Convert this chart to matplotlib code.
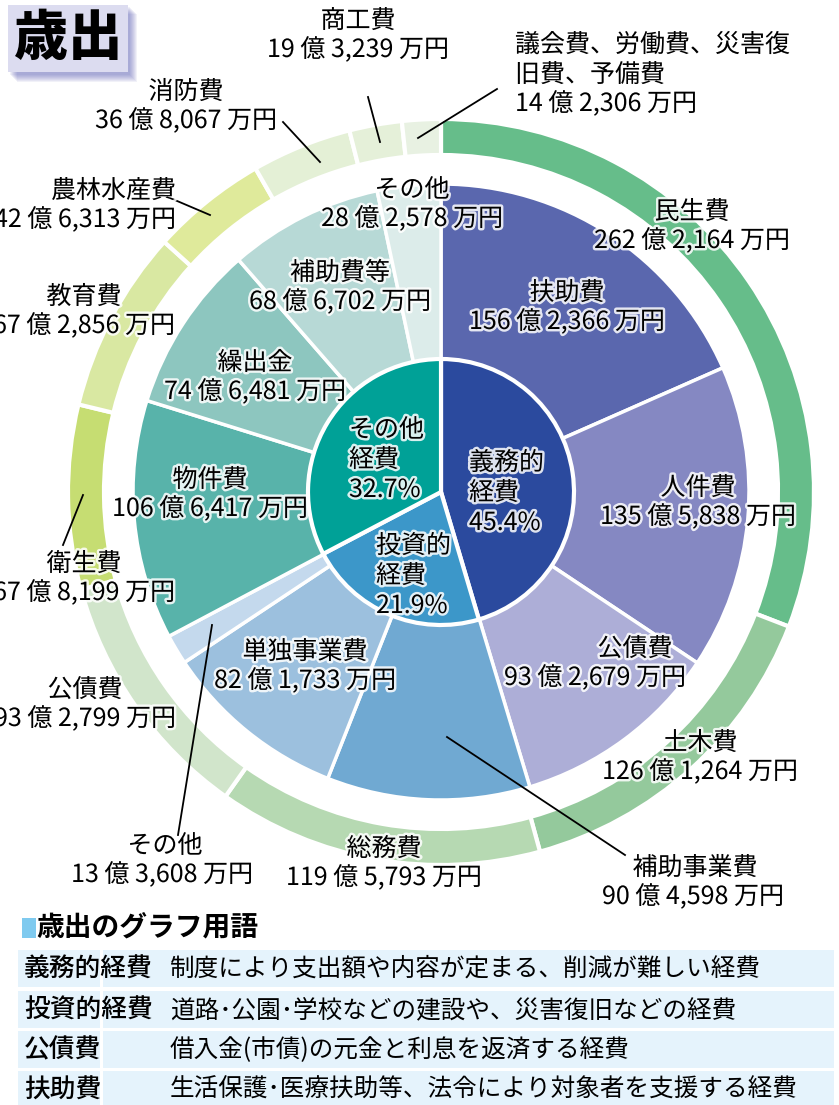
import matplotlib.pyplot as plt
import matplotlib.patheffects as pe
from matplotlib.patches import Rectangle

plt.rcParams['font.family'] = ['Noto Sans CJK JP', 'DejaVu Sans']

# 性質別 (inner ring) -- percent
inner_names = ['義務的\n経費', '投資的\n経費', 'その他\n経費']
inner_pct = [45.4, 21.9, 32.7]
inner_colors = ['#2b4a9e', '#3c97c9', '#00a197']

# middle ring, values in 万円
mid_names = ['扶助費', '人件費', '公債費', '補助事業費', '単独事業費', 'その他',
             '物件費', '繰出金', '補助費等', 'その他']
mid_vals = [1562366, 1355838, 932679, 904598, 821733, 133608,
            1066417, 746481, 686702, 282578]
mid_colors = ['#5a67ae', '#8588c2', '#adaed7', '#70a9d2', '#9cc0de', '#c4d9ed',
              '#58b3aa', '#8dc6bf', '#b7d9d6', '#dcecea']

# outer ring (目的別), values in 万円
out_names = ['民生費', '土木費', '総務費', '公債費', '衛生費', '教育費',
             '農林水産費', '消防費', '商工費', '議会費、労働費、災害復\n旧費、予備費']
out_vals = [2622164, 1261264, 1195793, 932799, 678199, 672856,
            426313, 368067, 193239, 142306]
out_colors = ['#66bd8a', '#94c99c', '#b6d9b2', '#d1e5cb', '#c6dd72', '#d9e8a2',
              '#dfea9b', '#e4f0d6', '#e5f0d9', '#e8f1e2']

terms = ['義務的経費', '投資的経費', '公債費', '扶助費']
term_desc = ['制度により支出額や内容が定まる、削減が難しい経費',
             '道路･公園･学校などの建設や、災害復旧などの経費',
             '借入金(市債)の元金と利息を返済する経費',
             '生活保護･医療扶助等、法令により対象者を支援する経費']


def yen(v):
    return f'{v // 10000} 億 {v % 10000:,} 万円'


W, H = 839, 1105
fig = plt.figure(figsize=(W / 100, H / 100), dpi=100)
ax = fig.add_axes([0, 0, 1, 1])

cx, cy = 441, 492
# y axis is flipped below, so counterclock=True draws clockwise on screen
ax.pie(out_vals, radius=373, center=(cx, cy), startangle=-90, counterclock=True,
       colors=out_colors, wedgeprops=dict(width=36, edgecolor='white', linewidth=3))
ax.pie(mid_vals, radius=308, center=(cx, cy), startangle=-90, counterclock=True,
       colors=mid_colors, wedgeprops=dict(width=176, edgecolor='white', linewidth=2.5))
ax.pie(inner_pct, radius=133, center=(cx, cy), startangle=-90, counterclock=True,
       colors=inner_colors, wedgeprops=dict(edgecolor='white', linewidth=3))

ax.set_xlim(0, W)
ax.set_ylim(H, 0)
ax.set_aspect('equal')
ax.axis('off')

glow = [pe.withStroke(linewidth=3.5, foreground='white', alpha=0.85)]
fs = 18


def lab(x, y, name, val, ha='center', dx=0):
    ax.text(x, y, name, ha=ha, va='center', fontsize=fs, path_effects=glow)
    ax.text(x + dx, y + 29, yen(val), ha=ha, va='center', fontsize=fs, path_effects=glow)


# middle ring labels (name centre, value offset)
mid_pos = [(567, 293), (698, 488), (635, 649), (695, 868), (305, 652),
           (165, 846), (210, 480), (255, 363), (340, 273), (412, 190)]
mid_dx = [0, 0, -40, -2, 0, -3, 0, 0, 0, 0]
for (x, y), d, n, v in zip(mid_pos, mid_dx, mid_names, mid_vals):
    lab(x, y, n, v, dx=d)

# outer ring labels
out_pos = [(692, 212), (700, 743), (384, 849), (85, 690), (84, 564), (84, 297),
           (176, 191), (186, 92), (358, 21)]
out_ha = ['center'] * 6 + ['right', 'center', 'center']
for (x, y), a, n, v in zip(out_pos, out_ha, out_names[:-1], out_vals[:-1]):
    lab(x, y, n, v, ha=a)
ax.text(515, 45, out_names[-1].split('\n')[0], ha='left', va='center', fontsize=fs,
        path_effects=glow)
ax.text(515, 75, out_names[-1].split('\n')[1], ha='left', va='center', fontsize=fs,
        path_effects=glow)
ax.text(515, 104, yen(out_vals[-1]), ha='left', va='center', fontsize=fs,
        path_effects=glow)

# inner labels
inner_pos = [(469, 493), (376, 576), (349, 460)]
for (x, y), n, p in zip(inner_pos, inner_names, inner_pct):
    ax.text(x, y, n + f'\n{p}%', ha='left', va='center', fontsize=fs,
            linespacing=1.2, path_effects=glow)

# leader lines
lines = [((283, 122), (320, 162)), ((368, 97), (380, 142)), ((497, 89), (418, 138)),
         ((156, 192), (210, 215)), ((83, 495), (63, 545)), ((212, 625), (178, 835)),
         ((447, 737), (625, 855))]
for (x1, y1), (x2, y2) in lines:
    ax.plot([x1, x2], [y1, y2], color='black', lw=1.3)

# title box with soft shadow
for i in range(8):
    ax.add_patch(Rectangle((10 + i, 7 + i), 120, 68, color='#4e56b0', alpha=0.08, lw=0))
ax.add_patch(Rectangle((8, 5), 120, 67, color='#dcdcf0', lw=0))
ax.text(68, 39, '歳出', ha='center', va='center', fontsize=39, fontweight='heavy')

# glossary
ax.add_patch(Rectangle((22, 918), 14, 20, color='#7fcaef', lw=0))
ax.text(36, 928, '歳出のグラフ用語', ha='left', va='center', fontsize=20, fontweight='bold')
row_top = [950, 991, 1031, 1071]
for top, t, d in zip(row_top, terms, term_desc):
    ax.add_patch(Rectangle((18, top), 82, 37, color='#e5f3fc', lw=0))
    ax.add_patch(Rectangle((103, top), 731, 37, color='#e5f3fc', lw=0))
    ax.text(24, top + 19, t, ha='left', va='center', fontsize=18.5, fontweight='medium')
    ax.text(170, top + 19, d, ha='left', va='center', fontsize=17.7)

fig.savefig('out.png', dpi=100)
